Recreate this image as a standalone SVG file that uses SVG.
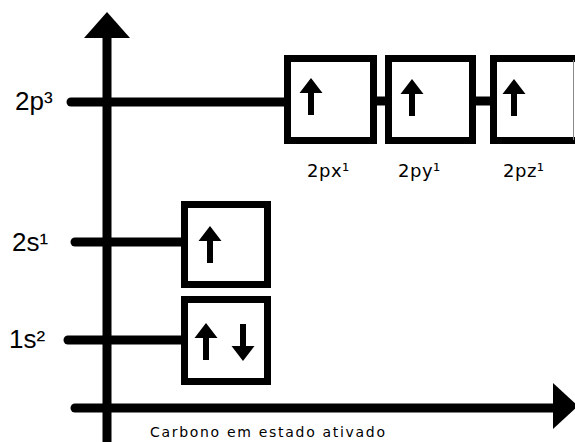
<svg xmlns="http://www.w3.org/2000/svg" width="575" height="442" viewBox="0 0 575 442">
<style>
.box{fill:#fff;stroke:#000;stroke-width:7}
.ln{stroke:#000;stroke-width:9;fill:none}
.lvl{font-family:"Liberation Sans",Arial,sans-serif;font-size:26px;fill:#000}
.sub{font-family:"DejaVu Sans","Liberation Sans",sans-serif;font-size:18px;letter-spacing:0.5px;fill:#000}
.cap{font-family:"DejaVu Sans","Liberation Sans",sans-serif;font-size:14px;fill:#000}
</style>
<defs>
<path id="up" d="M0,0 L11.5,15 L3,15 L3,37 L-3,37 L-3,15 L-11.5,15 Z" fill="#000"/>
<path id="down" d="M0,0 L11.5,-15 L3,-15 L3,-37 L-3,-37 L-3,-15 L-11.5,-15 Z" fill="#000"/>
</defs>
<rect width="575" height="442" fill="#fff"/>
<g id="connectors">
<line class="ln" x1="107" y1="36" x2="107" y2="442"/>
<polygon points="107,12 130,38 84,38" fill="#000"/>
<line class="ln" x1="75" y1="408" x2="555" y2="408" stroke-linecap="round"/>
<polygon points="553,383 578,406 553,429" fill="#000"/>
<line class="ln" x1="71" y1="102" x2="284" y2="102" stroke-linecap="round"/>
<line class="ln" x1="75" y1="242" x2="182" y2="242" stroke-linecap="round"/>
<line class="ln" x1="68" y1="340" x2="182" y2="340" stroke-linecap="round"/>
<line class="ln" x1="376" y1="101" x2="386" y2="101" stroke-width="8"/>
<line class="ln" x1="475" y1="101" x2="491" y2="101" stroke-width="8"/>
</g>
<g id="label-2p"><text class="lvl" x="15" y="110">2p³</text></g>
<g id="label-2s"><text class="lvl" x="12" y="251">2s¹</text></g>
<g id="label-1s"><text class="lvl" x="9" y="348">1s²</text></g>
<g id="box-2px">
<rect class="box" x="287.5" y="58.5" width="86" height="82"/>
<use href="#up" x="311" y="78"/>
<text class="sub" x="307" y="177">2px¹</text>
</g>
<g id="box-2py">
<rect class="box" x="388.5" y="58.5" width="84" height="82"/>
<use href="#up" x="412" y="79"/>
<text class="sub" x="398" y="177">2py¹</text>
</g>
<g id="box-2pz">
<rect class="box" x="493.5" y="58.5" width="86" height="82"/>
<line x1="573.5" y1="60" x2="573.5" y2="140" stroke="#888" stroke-width="1"/>
<use href="#up" x="514" y="79"/>
<text class="sub" x="503" y="177">2pz¹</text>
</g>
<g id="box-2s">
<rect class="box" x="184.5" y="204.5" width="83" height="80"/>
<use href="#up" x="210" y="226"/>
</g>
<g id="box-1s">
<rect class="box" x="184.5" y="299.5" width="83" height="82"/>
<use href="#up" x="206" y="323"/>
<use href="#down" x="243" y="361"/>
</g>
<g id="caption"><text class="cap" x="150" y="437" textLength="235" lengthAdjust="spacing">Carbono em estado ativado</text></g>
</svg>
